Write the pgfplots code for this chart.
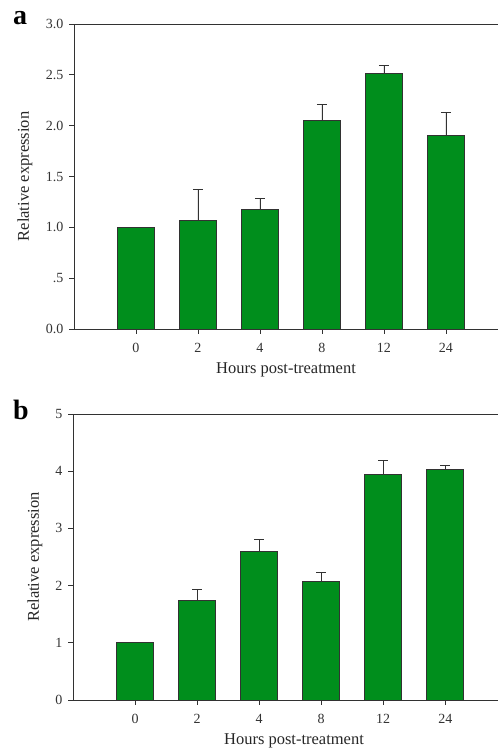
\documentclass[border=0pt]{standalone}
\usepackage{fontspec}
\setmainfont{Liberation Serif}
\usepackage{pgfplots}
\pgfplotsset{compat=1.18}
\definecolor{barGreen}{RGB}{0,142,28}
\definecolor{edge}{RGB}{50,50,50}
\pgfplotsset{
  panel/.style={
    scale only axis,
    xmin=-1, xmax=5.84,
    ymin=0,
    axis x line*=bottom, axis y line*=left,
    axis line style={edge, line width=0.8pt},
    tick style={edge, line width=0.8pt},
    tick align=outside, major tick length=5pt,
    xtick={0,1,2,3,4,5},
    xticklabels={0,2,4,8,12,24},
    ticklabel style={font=\fontsize{14}{16}\selectfont, text=black!80},
    xticklabel style={yshift=-6pt},
    yticklabel style={xshift=-2pt},
    label style={font=\fontsize{16.5}{19}\selectfont, text=black!85},
    x label style={at={(axis description cs:0.5,0)}, anchor=base, yshift=-45pt},
    xlabel={Hours post-treatment},
    ylabel={Relative expression},
    ybar, bar width=37pt,
    clip=false,
  },
  barstyle/.style={
    fill=barGreen, draw=edge, line width=0.8pt,
    error bars/.cd, y dir=plus, y explicit,
    error bar style={edge, line width=0.8pt},
    error mark options={rotate=90, mark size=5pt, edge, line width=0.8pt},
  },
}
\begin{document}
\begin{tikzpicture}
\useasboundingbox (0,0) rectangle (498pt,751pt);
% panel a
\begin{axis}[panel,
  at={(74pt,422pt)}, anchor=south west,
  width=424pt, height=305pt,
  ymax=3,
  ytick={0,0.5,1,1.5,2,2.5,3},
  yticklabels={0.0,.5,1.0,1.5,2.0,2.5,3.0},
  y label style={at={(axis description cs:-0.1156,0.5)}, anchor=center},
]
\addplot[barstyle] coordinates {
  (0,1.000) +- (0,0)
  (1,1.071) +- (0,0.305)
  (2,1.176) +- (0,0.105)
  (3,2.047) +- (0,0.161)
  (4,2.516) +- (0,0.072)
  (5,1.906) +- (0,0.226)
};
\draw[edge, line width=0.8pt] (rel axis cs:0,1) -- (rel axis cs:1,1);
\end{axis}
% panel b
\begin{axis}[panel,
  at={(73pt,51pt)}, anchor=south west,
  width=425pt, height=286pt,
  xmax=5.85,
  ymax=5,
  ytick={0,1,2,3,4,5},
  yticklabels={0,1,2,3,4,5},
  y label style={at={(axis description cs:-0.0894,0.5)}, anchor=center},
  x label style={at={(axis description cs:0.52,0)}},
]
\addplot[barstyle] coordinates {
  (0,1.000) +- (0,0)
  (1,1.746) +- (0,0.186)
  (2,2.596) +- (0,0.210)
  (3,2.066) +- (0,0.158)
  (4,3.946) +- (0,0.245)
  (5,4.028) +- (0,0.070)
};
\draw[edge, line width=0.8pt] (rel axis cs:0,1) -- (rel axis cs:1,1);
\end{axis}
\node[anchor=base west, inner sep=0pt, font=\fontsize{28}{30}\selectfont\bfseries] at (13pt,726pt) {a};
\node[anchor=base west, inner sep=0pt, font=\fontsize{28}{30}\selectfont\bfseries] at (13pt,331pt) {b};
\end{tikzpicture}
\end{document}
